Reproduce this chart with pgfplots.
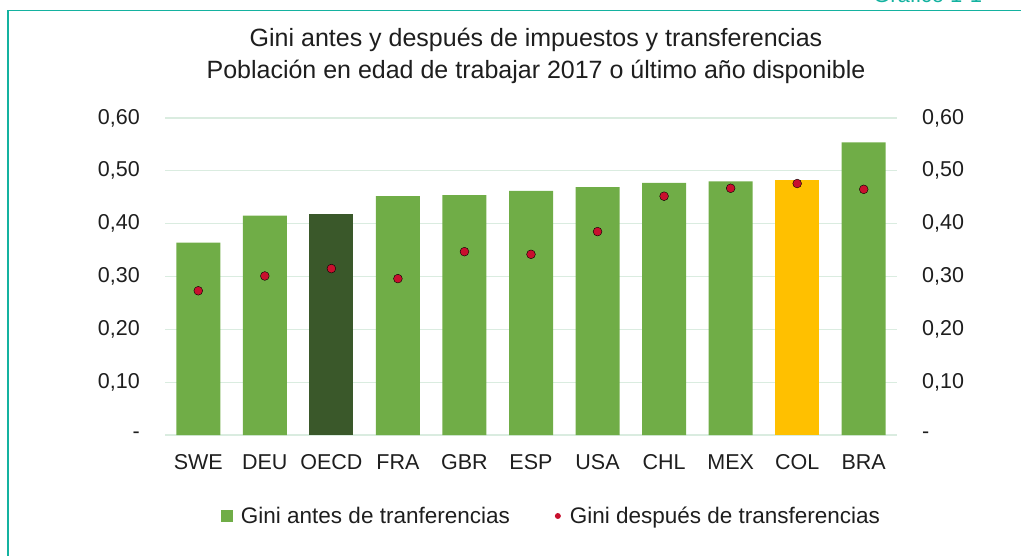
\documentclass[border=0pt]{standalone}
\usepackage{pgfplots}
\pgfplotsset{compat=1.18}
\usepackage{fontspec}
\setmainfont{Liberation Sans}
\definecolor{gbar}{RGB}{112,173,71}
\definecolor{dbar}{RGB}{58,88,42}
\definecolor{ybar}{RGB}{255,192,0}
\definecolor{rdot}{RGB}{200,16,46}
\definecolor{gridc}{RGB}{218,236,224}
\definecolor{teal}{RGB}{20,178,160}
\definecolor{txt}{RGB}{30,30,30}
\begin{document}
\begin{tikzpicture}
\useasboundingbox (0,0) rectangle (1021bp,-556bp);
\draw[teal, line width=1.2bp] (8bp,-560bp) -- (8bp,-10.5bp) -- (1030bp,-10.5bp);
\node[anchor=base west, text=teal, font=\fontsize{22bp}{26bp}\selectfont, inner sep=0pt] at (873bp,-2bp) {Gráfico 1-1};
\node[align=center, text=txt, font=\fontsize{25bp}{32bp}\selectfont, inner sep=0pt] at (536bp,-56bp)
  {Gini antes y después de impuestos y transferencias\\Población en edad de trabajar 2017 o último año disponible};
\begin{axis}[
  at={(165bp,-435bp)}, anchor=south west,
  scale only axis, width=732bp, height=317bp,
  xmin=-0.5, xmax=10.5, ymin=0, ymax=0.6,
  axis line style={draw=none},
  xtick={0,...,10},
  xticklabels={SWE,DEU,OECD,FRA,GBR,ESP,USA,CHL,MEX,COL,BRA},
  ytick={0,0.1,0.2,0.3,0.4,0.5,0.6},
  yticklabels={{-\hspace{14bp}},{0,10},{0,20},{0,30},{0,40},{0,50},{0,60}},
  major tick length=0pt,
  ymajorgrids, grid style={gridc, line width=1.2bp},
  tick label style={text=txt, font=\fontsize{21.5bp}{24bp}\selectfont},
  yticklabel style={inner sep=0pt, xshift=-25bp},
  xticklabel style={inner sep=0pt, anchor=base, yshift=-34.5bp},
  legend style={at={(0.528,-0.2555)}, anchor=center, draw=none, fill=none,
    legend columns=2, font=\fontsize{22.5bp}{26bp}\selectfont, text=txt,
    /tikz/every even column/.append style={column sep=40bp}},
  legend cell align=left,
]
\addplot[ybar, bar width=44bp, bar shift=0pt, fill=gbar, draw=none,
  legend image code/.code={\fill[gbar] (0bp,-6bp) rectangle (12bp,6bp);\path[draw=none,fill=none] (0bp,0bp) -- (18bp,0bp);}]
  coordinates {(0,0.364) (1,0.415) (3,0.452) (4,0.454) (5,0.462) (6,0.469) (7,0.477) (8,0.480) (10,0.554)};
\addlegendentry{Gini antes de tranferencias}
\addplot[ybar, bar width=44bp, bar shift=0pt, fill=dbar, draw=none, forget plot]
  coordinates {(2,0.418)};
\addplot[ybar, bar width=44bp, bar shift=0pt, fill=ybar, draw=none, forget plot]
  coordinates {(9,0.483)};
\addplot[only marks, mark=*, mark size=4.4bp, mark options={fill=rdot, draw=none},
  legend image code/.code={\fill[rdot, draw=none] (6bp,0bp) circle (3bp);\path[draw=none,fill=none] (0bp,0bp) -- (16bp,0bp);}]
  coordinates {(0,0.273) (1,0.301) (2,0.315) (3,0.296) (4,0.347) (5,0.342) (6,0.385) (7,0.452) (8,0.467) (9,0.476) (10,0.465)};
\addlegendentry{Gini después de transferencias}
\end{axis}
\begin{axis}[
  at={(165bp,-435bp)}, anchor=south west,
  scale only axis, width=732bp, height=317bp,
  xmin=-0.5, xmax=10.5, ymin=0, ymax=0.6,
  axis x line=none, axis y line*=right,
  y axis line style={draw=none},
  ytick={0,0.1,0.2,0.3,0.4,0.5,0.6},
  yticklabels={{-},{0,10},{0,20},{0,30},{0,40},{0,50},{0,60}},
  major tick length=0pt,
  tick label style={text=txt, font=\fontsize{21.5bp}{24bp}\selectfont},
  yticklabel style={inner sep=0pt, xshift=25bp},
]
\addplot[draw=none, forget plot] coordinates {(0,0) (1,0)};
\end{axis}
\end{tikzpicture}
\end{document}
